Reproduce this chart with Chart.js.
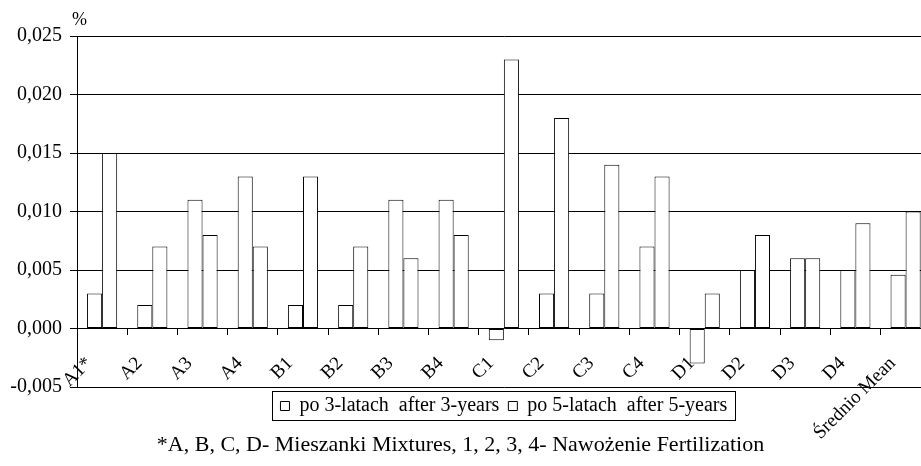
<!DOCTYPE html>
<html>
<head>
<meta charset="utf-8">
<script src="https://cdn.jsdelivr.net/npm/chart.js@4.4.1/dist/chart.umd.min.js"></script>
<style>
  body { margin: 0; width: 921px; height: 466px; overflow: hidden; background: #fff; position: relative; }
  canvas { position: absolute; left: 0; top: 0; }
  .note { position: absolute; font-family: "Liberation Serif", "Times New Roman", serif; color: #000; }
  #unit { left: 72px; top: 9px; font-size: 18px; }
  #caption { left: 0; top: 431px; width: 921px; text-align: center; font-size: 22px; white-space: pre; }
</style>
</head>
<body>
<canvas id="myChart" width="940" height="466"></canvas>
<div class="note" id="unit">%</div>
<div class="note" id="caption">*A, B, C, D- Mieszanki Mixtures, 1, 2, 3, 4- Nawożenie Fertilization</div>
<script>
const categories = ['A1*', 'A2', 'A3', 'A4', 'B1', 'B2', 'B3', 'B4', 'C1', 'C2', 'C3', 'C4', 'D1', 'D2', 'D3', 'D4', 'Średnio Mean'];
const after3 = [0.003, 0.002, 0.011, 0.013, 0.002, 0.002, 0.011, 0.011, -0.001, 0.003, 0.003, 0.007, -0.003, 0.005, 0.006, 0.005, 0.0046];
const after5 = [0.015, 0.007, 0.008, 0.007, 0.013, 0.007, 0.006, 0.008, 0.023, 0.018, 0.014, 0.013, 0.003, 0.008, 0.006, 0.009, 0.010];
const seriesNames = ['po 3-latach  after 3-years', 'po 5-latach  after 5-years'];
const yRange = [-0.005, 0.025];
const yStep = 0.005;

const serif = '"Liberation Serif", "Times New Roman", serif';

// ramka wokol legendy
const legendFrame = {
    id: 'legendFrame',
    afterDraw(chart) {
        const boxes = chart.legend.legendHitBoxes;
        if (!boxes || !boxes.length) return;
        const first = boxes[0];
        const last = boxes[boxes.length - 1];
        const c = chart.ctx;
        c.save();
        c.strokeStyle = '#000';
        c.lineWidth = 1;
        c.strokeRect(Math.round(first.left - 8) + 0.5, Math.round(first.top - 5) + 0.5,
            Math.round(last.left + last.width - first.left + 16), Math.round(first.height + 9));
        c.restore();
    }
};

function fmt(v) {
    const s = Math.abs(v) < 1e-9 ? '0.000' : v.toFixed(3);
    return s.replace('.', ',');
}

const ctx = document.getElementById('myChart');

new Chart(ctx, {
    type: 'bar',
    data: {
        labels: categories,
        datasets: [{
            label: seriesNames[0],
            data: after3,
            backgroundColor: '#fff',
            borderColor: '#000',
            borderWidth: 1,
            borderSkipped: false
        }, {
            label: seriesNames[1],
            data: after5,
            backgroundColor: '#fff',
            borderColor: '#000',
            borderWidth: 1,
            borderSkipped: false
        }]
    },
    options: {
        responsive: false,
        animation: false,
        layout: { padding: { top: 36, right: 4, bottom: 40, left: 0 } },
        datasets: { bar: { categoryPercentage: 0.6, barPercentage: 1.0 } },
        scales: {
            x: {
                type: 'category',
                position: { y: 0 },
                offset: true,
                grid: { offset: true, drawOnChartArea: false, drawTicks: true, tickLength: 6, color: '#000' },
                border: { display: false },
                ticks: {
                    autoSkip: false,
                    minRotation: 45,
                    maxRotation: 45,
                    labelOffset: -13,
                    padding: 18,
                    color: '#000',
                    font: { family: serif, size: 19 }
                }
            },
            y: {
                min: yRange[0],
                max: yRange[1],
                afterFit(scale) { scale.width = 77; },
                grid: { color: '#000', tickLength: 7, drawTicks: true },
                border: { display: true, color: '#000' },
                ticks: {
                    stepSize: yStep,
                    padding: 8,
                    color: '#000',
                    font: { family: serif, size: 20 },
                    callback: v => fmt(v)
                }
            }
        },
        plugins: {
            legend: {
                position: 'bottom',
                fullSize: false,
                labels: {
                    boxWidth: 9,
                    boxHeight: 9,
                    padding: 9,
                    color: '#000',
                    font: { family: serif, size: 20 }
                }
            },
            tooltip: { enabled: false }
        }
    },
    plugins: [legendFrame]
});
</script>
</body>
</html>
